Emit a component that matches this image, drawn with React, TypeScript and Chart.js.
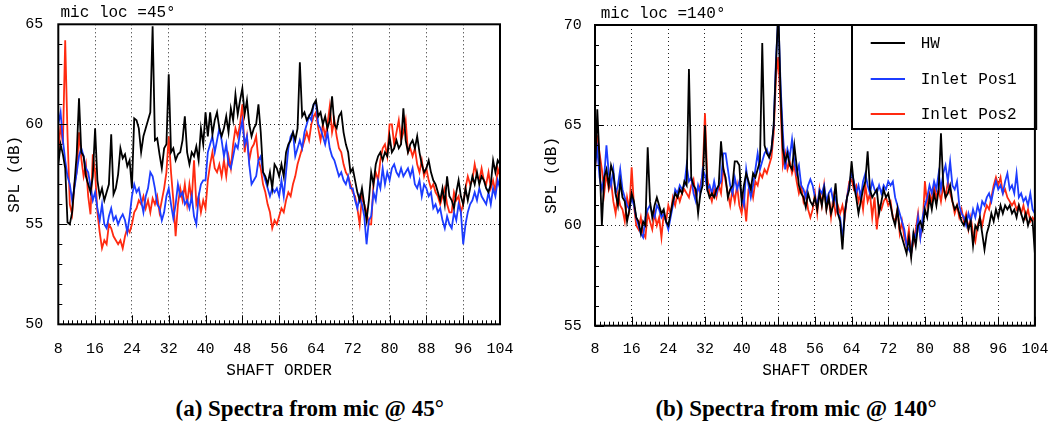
import React, { useEffect, useRef } from 'react';
import { Chart, registerables } from 'chart.js';

Chart.register(...registerables);

// ---------- data ----------
const ORDER_START = 8;
const ORDER_STEP = 0.5;
const X_MIN = 8;
const X_MAX = 104;
const X_MAJOR = 8;

const SERIES_NAMES = ['HW', 'Inlet Pos1', 'Inlet Pos2'];
const SERIES_COLORS = ['#000000', '#1c3cff', '#ff2a10'];

// mic @ 45 deg
const L_HW = [
  58.0, 59.0, 58.5, 57.8, 55.1, 55.0, 55.6, 57.0, 58.5, 61.3, 58.6, 58.4, 57.4, 57.0, 56.6, 57.4,
  59.8, 57.2, 56.4, 56.8, 56.2, 56.6, 57.0, 59.5, 56.5, 56.8, 57.5, 58.8, 58.3, 58.5, 57.9, 58.2,
  56.8, 60.3, 60.2, 59.8, 58.6, 59.4, 59.8, 60.2, 60.6, 64.9, 59.2, 59.3, 58.5, 57.8, 58.8, 59.0,
  62.5, 58.6, 58.8, 58.2, 58.5, 58.6, 59.2, 60.4, 58.6, 58.0, 58.6, 58.4, 58.9, 58.2, 59.8, 59.0,
  60.6, 59.4, 60.6, 59.5, 60.2, 60.6, 59.8, 59.4, 59.8, 60.4, 59.6, 60.8, 60.2, 61.5, 60.5, 61.2,
  61.8, 60.5, 61.2, 60.0, 59.4, 59.8, 60.0, 61.0, 59.6, 57.6, 57.4, 57.0, 57.6, 56.8, 58.0,
  57.8, 57.4, 58.0, 57.4, 58.6, 59.0, 59.2, 59.6, 59.2, 59.8, 63.1, 60.4, 60.6, 60.2, 60.4, 60.6,
  61.0, 61.2, 60.4, 60.6, 60.0, 60.4, 59.8, 60.2, 61.4, 60.0, 59.8, 60.4, 60.6, 59.6, 59.0, 58.6,
  57.6, 57.8, 57.2, 56.6, 56.2, 56.8, 56.0, 55.2, 56.2, 57.6, 57.0, 58.0, 58.4, 58.6, 58.2,
  58.6, 58.4, 59.4, 58.6, 58.8, 59.2, 58.8, 59.0, 60.8, 59.2, 58.6, 59.0, 59.2, 58.8, 59.4, 58.6,
  58.0, 57.6, 57.8, 58.2, 57.6, 57.2, 57.0, 56.6, 56.2, 56.8, 56.0, 57.4, 56.4, 56.2, 55.8, 56.6,
  57.2, 56.4, 56.0, 56.8, 56.2, 56.8, 57.4, 57.0, 57.6, 57.0, 57.4, 57.2, 56.8, 56.6, 57.0, 58.2,
  57.6, 58.2, 58.0,
];
const L_POS1 = [
  60.0, 60.6, 59.2, 58.2, 57.4, 57.0, 56.2, 56.8, 57.6, 58.4, 58.8, 58.4, 57.8, 57.6, 56.9, 56.2,
  56.6, 55.8, 55.2, 56.0, 55.0, 54.8, 55.4, 55.8, 55.2, 55.4, 55.0, 55.3, 55.5, 55.2, 54.6, 55.4,
  56.4, 57.0, 56.6, 56.8, 56.2, 55.6, 56.4, 56.8, 57.6, 57.4, 56.8, 56.0, 55.8, 55.2, 55.6, 56.4,
  56.8, 56.0, 55.3, 56.0, 57.0, 56.4, 56.6, 56.0, 56.2, 55.8, 56.4, 55.4, 55.0, 56.4, 57.0, 57.2,
  57.2, 58.6, 59.0, 59.4, 58.6, 59.2, 59.8, 59.2, 58.4, 59.0, 58.0, 57.8, 58.4, 59.0, 58.8, 59.6,
  60.2, 59.0, 59.4, 58.0, 57.0, 57.2, 57.4, 58.2, 58.4, 57.6, 57.2, 56.8, 56.4, 56.8, 56.6,
  56.8, 56.4, 57.2, 56.4, 57.6, 58.8, 59.4, 59.6, 58.4, 58.8, 59.2, 58.8, 59.6, 60.0, 60.4, 60.2,
  61.0, 61.1, 60.0, 59.8, 59.4, 59.0, 59.6, 58.8, 58.4, 58.2, 57.8, 57.4, 57.6, 57.2, 57.0, 57.4,
  56.8, 56.8, 56.2, 55.8, 56.4, 56.0, 55.4, 54.0, 55.2, 55.4, 56.6, 56.2, 57.2, 56.8, 57.8,
  57.0, 57.6, 57.2, 57.8, 58.0, 57.6, 57.4, 57.8, 57.4, 57.6, 57.8, 57.4, 57.8, 57.0, 56.8, 57.2,
  56.4, 57.0, 56.8, 56.4, 56.6, 55.8, 56.0, 55.6, 55.8, 55.2, 54.8, 55.4, 55.0, 54.8, 55.6, 55.2,
  56.0, 55.6, 54.0, 55.0, 55.6, 56.0, 56.2, 56.6, 56.2, 56.8, 56.4, 56.2, 56.0, 56.6, 56.0, 56.8,
  56.4, 57.2, 56.8,
];
const L_POS2 = [
  58.5, 60.0, 59.0, 64.2, 59.5, 56.0, 55.5, 57.0, 57.6, 59.6, 58.3, 57.4, 58.0, 56.4, 55.5, 58.5,
  57.6, 55.6, 54.6, 53.8, 54.2, 54.0, 55.0, 54.8, 54.4, 54.2, 54.0, 54.2, 53.8, 54.4, 54.8, 54.6,
  55.0, 55.6, 55.8, 56.2, 56.0, 56.4, 55.8, 56.2, 55.6, 56.3, 56.0, 56.4, 55.6, 56.2, 56.8, 57.6,
  59.4, 57.6, 56.2, 54.4, 56.0, 56.8, 56.2, 57.0, 56.0, 57.0, 56.2, 58.2, 56.0, 56.4, 55.6, 56.2,
  55.8, 57.2, 58.0, 58.6, 57.8, 57.6, 58.0, 57.4, 58.2, 57.4, 58.4, 57.8, 59.0, 59.8, 59.4, 60.0,
  61.0, 58.6, 59.4, 58.2, 58.8, 59.0, 59.4, 58.2, 57.8, 57.0, 56.6, 56.0, 55.6, 54.8, 55.2,
  55.0, 55.4, 55.8, 55.6, 56.2, 56.6, 56.4, 57.0, 57.4, 58.0, 58.4, 58.8, 59.2, 59.6, 59.2, 60.0,
  60.4, 60.6, 59.8, 59.2, 60.0, 59.4, 60.0, 60.9, 59.6, 60.2, 59.4, 58.8, 58.6, 58.0, 57.6, 57.4,
  57.0, 56.6, 56.4, 55.8, 55.0, 56.4, 56.0, 55.6, 55.0, 55.0, 57.0, 57.6, 57.2, 58.2, 58.8,
  59.0, 58.4, 60.0, 60.0, 59.0, 59.6, 60.2, 59.2, 59.6, 60.2, 58.6, 58.8, 58.4, 58.8, 58.0, 57.6,
  58.2, 57.4, 57.8, 57.2, 56.8, 57.0, 56.6, 56.4, 56.0, 56.4, 56.8, 56.0, 55.6, 55.6, 56.6, 56.2,
  56.4, 55.6, 56.0, 56.8, 57.4, 57.0, 57.2, 58.0, 57.4, 57.2, 57.8, 57.2, 57.0, 57.6, 56.8, 57.2,
  56.6, 57.8, 57.4,
];

// mic @ 140 deg
const R_HW = [
  62.5, 65.8, 63.2, 60.0, 62.4, 62.8, 62.0, 63.0, 62.6, 61.6, 61.0, 62.2, 61.4, 61.2, 60.2, 60.8,
  61.6, 61.2, 60.4, 60.2, 59.6, 60.2, 60.0, 63.9, 61.2, 60.4, 61.0, 61.4, 61.0, 60.6, 60.8, 60.2,
  60.0, 60.6, 61.2, 61.6, 61.4, 61.8, 61.6, 62.2, 62.0, 67.8, 62.4, 62.0, 61.8, 60.6, 61.6, 62.0,
  65.0, 61.8, 61.4, 61.6, 61.4, 61.8, 62.0, 64.2, 62.8, 62.4, 61.4, 61.8, 62.0, 63.2, 63.2, 63.0,
  61.2, 62.0, 62.6, 62.2, 61.8, 62.6, 62.4, 62.8, 63.2, 69.1, 64.0, 63.6, 63.4, 63.8, 65.0, 68.0,
  70.8, 66.6, 63.8, 63.2, 63.6, 63.0, 62.8, 64.0, 63.0, 62.0, 61.6, 61.4, 60.9, 61.6, 61.2,
  61.0, 61.4, 60.8, 61.6, 61.0, 61.8, 60.8, 61.4, 60.6, 61.0, 62.1, 60.6, 60.2, 58.8, 60.6, 61.4,
  61.8, 63.2, 62.0, 61.4, 60.6, 61.2, 61.8, 62.2, 63.7, 61.8, 61.4, 61.6, 61.8, 60.6, 61.2, 61.8,
  61.4, 61.6, 61.0, 60.4, 60.0, 60.8, 59.8, 59.4, 59.0, 58.6, 59.4, 58.4, 59.6, 59.0, 60.0,
  60.2, 59.8, 60.8, 60.4, 61.4, 60.8, 61.6, 61.0, 61.8, 64.6, 62.0, 61.4, 61.6, 62.0, 61.2, 60.8,
  61.0, 60.6, 60.2, 60.0, 60.4, 59.8, 60.2, 59.0, 60.0, 59.8, 60.4, 59.6, 58.8, 59.6, 60.0, 60.6,
  60.2, 60.8, 60.4, 61.0, 60.6, 61.0, 60.8, 61.0, 60.6, 60.8, 60.4, 61.0, 60.6, 60.2, 60.6, 60.0,
  60.4, 60.2, 58.6,
];
const R_POS1 = [
  63.0, 63.8, 62.4, 61.8, 62.4, 64.0, 62.6, 62.0, 62.8, 61.6, 62.0, 62.8, 61.8, 61.4, 61.0, 60.8,
  61.4, 61.0, 60.4, 60.0, 59.6, 59.4, 60.4, 60.8, 61.0, 60.6, 60.4, 61.0, 60.8, 60.4, 60.6, 60.2,
  59.8, 60.4, 61.0, 61.8, 61.6, 62.0, 61.8, 62.0, 63.0, 62.2, 62.4, 61.6, 61.2, 62.0, 61.6, 62.8,
  62.5, 61.8, 62.0, 61.6, 62.2, 61.6, 62.0, 62.2, 63.6, 63.6, 62.8, 62.0, 61.6, 62.4, 61.8, 62.2,
  61.4, 61.0, 62.8, 62.0, 61.4, 62.0, 62.8, 63.6, 62.8, 63.2, 63.6, 63.8, 63.4, 63.8, 65.0, 68.3,
  70.5, 67.0, 64.6, 62.8, 63.8, 63.4, 64.3, 63.2, 62.6, 63.0, 62.0, 61.8, 61.4, 62.0, 62.3,
  62.0, 61.4, 61.0, 61.8, 61.6, 62.0, 61.2, 61.6, 61.8, 61.2, 61.4, 60.6, 60.4, 59.3, 60.6, 61.4,
  62.0, 62.7, 62.2, 61.6, 62.0, 61.4, 62.2, 62.6, 62.0, 61.6, 62.2, 61.8, 61.6, 62.0, 61.6, 62.0,
  61.8, 62.2, 62.0, 62.2, 61.4, 61.0, 60.6, 60.2, 59.8, 59.0, 58.8, 58.6, 59.6, 59.4, 60.4,
  59.4, 60.4, 61.0, 61.4, 62.0, 61.6, 62.2, 61.8, 62.6, 61.8, 62.6, 63.0, 62.2, 63.2, 62.0, 61.8,
  62.2, 61.0, 60.6, 60.4, 60.0, 60.6, 60.2, 60.8, 60.4, 61.0, 60.6, 61.2, 61.0, 61.4, 61.6, 61.2,
  61.8, 62.2, 61.8, 62.0, 61.6, 62.2, 62.6, 61.8, 62.0, 61.6, 62.6, 61.4, 61.6, 61.2, 61.4, 61.0,
  61.6, 60.8, 60.6,
];
const R_POS2 = [
  62.8, 64.5, 63.6, 62.8, 61.6, 62.6, 61.8, 62.2, 61.2, 60.6, 61.6, 61.0, 60.8, 60.2, 61.4, 60.8,
  62.9, 61.0, 60.0, 59.8, 60.4, 59.6, 59.4, 60.6, 60.2, 59.8, 60.6, 60.0, 60.4, 59.4, 60.6, 60.2,
  61.0, 60.6, 61.4, 61.0, 61.6, 61.2, 61.6, 61.8, 61.6, 61.4, 62.0, 62.3, 61.4, 61.8, 62.0, 62.6,
  65.6, 62.4, 61.6, 61.2, 61.8, 61.4, 62.0, 61.6, 62.9, 62.2, 61.6, 61.0, 61.8, 61.2, 62.0, 61.0,
  60.6, 61.4, 60.2, 61.8, 62.0, 61.4, 62.2, 62.0, 62.6, 62.4, 62.8, 62.6, 63.0, 63.4, 64.6, 67.4,
  68.4, 66.0, 63.0, 63.6, 62.8, 63.2, 62.6, 63.0, 62.2, 61.6, 62.0, 61.2, 61.6, 60.8, 60.4,
  60.8, 61.6, 60.6, 61.8, 61.0, 62.0, 60.8, 61.4, 60.4, 61.4, 60.6, 61.0, 60.6, 61.0, 60.4, 61.4,
  62.2, 62.3, 61.8, 62.0, 61.2, 61.6, 60.8, 62.0, 61.2, 61.6, 60.4, 61.4, 59.8, 61.0, 60.8, 61.2,
  61.4, 61.0, 61.2, 60.4, 60.2, 60.8, 59.6, 60.2, 59.4, 59.0, 59.8, 58.6, 59.2, 59.8, 60.6,
  59.4, 60.0, 62.2, 61.0, 61.6, 61.2, 62.0, 61.4, 61.8, 61.2, 62.0, 61.4, 62.2, 61.6, 61.2, 60.6,
  61.0, 60.4, 60.8, 60.2, 60.6, 59.8, 60.4, 59.6, 59.2, 60.0, 60.4, 60.0, 60.6, 61.0, 60.8, 61.4,
  62.0, 62.4, 62.0, 62.4, 61.6, 61.8, 61.4, 61.2, 61.0, 61.2, 60.8, 61.0, 60.6, 61.0, 60.4, 60.8,
  60.2, 60.4, 60.2,
];

const MONO = "'Liberation Mono', 'Courier New', monospace";

type PanelSpec = {
  canvasLeft: number;
  canvasWidth: number;
  canvasHeight: number;
  plotLeft: number; // within canvas
  plotRight: number;
  plotTop: number;
  plotBottom: number;
  yMin: number;
  yMax: number;
  series: number[][];
  title: string;
  titleX: number;
  titleY: number;
  yTitlePad: number;
  yTickPad: number;
  xTickPad: number;
  legend: boolean;
};

const decoPlugin = {
  id: 'panelDeco',
  afterDatasetsDraw(chart: any, _args: any, opts: any) {
    const { ctx, chartArea: a, scales } = chart;
    const xs = scales.x;
    const ys = scales.y;
    ctx.save();
    ctx.setLineDash([]);
    ctx.strokeStyle = '#000';
    ctx.lineWidth = 1;
    for (let v = Math.ceil(xs.min); v <= xs.max; v++) {
      const px = Math.round(xs.getPixelForValue(v)) + 0.5;
      const len = v % X_MAJOR === 0 ? 9 : 4;
      ctx.beginPath();
      ctx.moveTo(px, a.bottom);
      ctx.lineTo(px, a.bottom - len);
      ctx.stroke();
    }
    for (let v = Math.ceil(ys.min); v <= ys.max; v++) {
      const py = Math.round(ys.getPixelForValue(v)) + 0.5;
      const len = v % 5 === 0 ? 9 : 4;
      ctx.beginPath();
      ctx.moveTo(a.left, py);
      ctx.lineTo(a.left + len, py);
      ctx.stroke();
    }
    // legend
    if (opts.legend) {
      const bl = a.left + 257;
      const br = a.right + 1.3;
      const bt = a.top;
      const bb = a.top + 104;
      ctx.fillStyle = '#fff';
      ctx.fillRect(bl, bt, br - bl, bb - bt);
      ctx.lineWidth = 2;
      ctx.strokeRect(bl, bt, br - bl, bb - bt);
      const rows = [18, 54, 89];
      ctx.font = `16px ${MONO}`;
      ctx.textBaseline = 'middle';
      ctx.textAlign = 'left';
      chart.data.datasets.forEach((ds: any, i: number) => {
        const yy = bt + rows[i];
        ctx.strokeStyle = ds.borderColor;
        ctx.lineWidth = 1.8;
        ctx.beginPath();
        ctx.moveTo(bl + 18.7, yy);
        ctx.lineTo(bl + 53, yy);
        ctx.stroke();
        ctx.fillStyle = '#000';
        ctx.fillText(ds.label, bl + 68.7, yy + 1);
      });
    }
    // frame
    ctx.strokeStyle = '#000';
    ctx.lineWidth = 2;
    ctx.strokeRect(a.left, a.top, a.width, a.height);
    // panel title
    ctx.fillStyle = '#000';
    ctx.font = `16px ${MONO}`;
    ctx.textBaseline = 'middle';
    ctx.textAlign = 'left';
    ctx.fillText(opts.title, opts.titleX, opts.titleY);
    ctx.restore();
  },
};

function Panel({ spec }: { spec: PanelSpec }) {
  const ref = useRef<HTMLCanvasElement | null>(null);
  useEffect(() => {
    if (!ref.current) return;
    const n = spec.series[0].length;
    const orders = Array.from({ length: n }, (_, i) => ORDER_START + i * ORDER_STEP);
    const datasets = spec.series.map((vals, k) => ({
      label: SERIES_NAMES[k],
      data: orders.map((o, i) => ({ x: o, y: vals[i] })),
      borderColor: SERIES_COLORS[k],
      backgroundColor: SERIES_COLORS[k],
      borderWidth: 1.8,
      pointRadius: 0,
      tension: 0,
      fill: false,
      clip: 0,
    }));
    const xHeight = spec.canvasHeight - spec.plotBottom;
    const chart = new Chart(ref.current, {
      type: 'line',
      data: { datasets },
      plugins: [decoPlugin],
      options: {
        responsive: false,
        animation: false,
        devicePixelRatio: 1,
        layout: {
          padding: {
            left: 0,
            top: spec.plotTop,
            right: spec.canvasWidth - spec.plotRight,
            bottom: 0,
          },
        },
        plugins: {
          legend: { display: false },
          tooltip: { enabled: false },
          panelDeco: {
            legend: spec.legend,
            title: spec.title,
            titleX: spec.titleX,
            titleY: spec.titleY,
          },
        } as any,
        scales: {
          x: {
            type: 'linear',
            min: X_MIN,
            max: X_MAX,
            afterFit: (s: any) => {
              s.height = xHeight;
            },
            ticks: {
              stepSize: X_MAJOR,
              color: '#000',
              padding: spec.xTickPad,
              maxRotation: 0,
              autoSkip: false,
              font: { family: MONO, size: 15 },
            },
            grid: { color: '#222', lineWidth: 1, drawTicks: false },
            border: { display: false, dash: [1, 3] },
            title: {
              display: true,
              text: 'SHAFT ORDER',
              color: '#000',
              font: { family: MONO, size: 16 },
              padding: { top: 0, bottom: 9.7 },
            },
          },
          y: {
            type: 'linear',
            min: spec.yMin,
            max: spec.yMax,
            afterFit: (s: any) => {
              s.width = spec.plotLeft;
            },
            ticks: {
              stepSize: 5,
              color: '#000',
              padding: spec.yTickPad,
              font: { family: MONO, size: 15 },
            },
            grid: { color: '#222', lineWidth: 1, drawTicks: false },
            border: { display: false, dash: [1, 3] },
            title: {
              display: true,
              text: 'SPL (dB)',
              color: '#000',
              font: { family: MONO, size: 16 },
              padding: { top: spec.yTitlePad, bottom: 0 },
            },
          },
        },
      } as any,
    });
    return () => chart.destroy();
  }, [spec]);
  return (
    <canvas
      ref={ref}
      width={spec.canvasWidth}
      height={spec.canvasHeight}
      style={{
        position: 'absolute',
        left: spec.canvasLeft,
        top: 0,
        width: spec.canvasWidth,
        height: spec.canvasHeight,
      }}
    />
  );
}

const LEFT: PanelSpec = {
  canvasLeft: 0,
  canvasWidth: 530,
  canvasHeight: 390,
  plotLeft: 58.3,
  plotRight: 500,
  plotTop: 24.3,
  plotBottom: 324.3,
  yMin: 50,
  yMax: 65,
  series: [L_HW, L_POS1, L_POS2],
  title: 'mic loc =45°',
  titleX: 60.5,
  titleY: 13,
  yTitlePad: 5.4,
  yTickPad: 15,
  xTickPad: 16,
  legend: false,
};

const RIGHT: PanelSpec = {
  canvasLeft: 530,
  canvasWidth: 533,
  canvasHeight: 390,
  plotLeft: 65,
  plotRight: 505.7,
  plotTop: 25,
  plotBottom: 325.7,
  yMin: 55,
  yMax: 70,
  series: [R_HW, R_POS1, R_POS2],
  title: 'mic loc =140°',
  titleX: 70.7,
  titleY: 14,
  yTitlePad: 12.1,
  yTickPad: 13.3,
  xTickPad: 14.6,
  legend: true,
};

const captionStyle = (cx: number): React.CSSProperties => ({
  position: 'absolute',
  left: cx,
  top: 409,
  transform: 'translate(-50%, -50%)',
  whiteSpace: 'nowrap',
  fontFamily: "'Liberation Serif', 'Times New Roman', serif",
  fontWeight: 'bold',
  fontSize: 23,
  lineHeight: '26px',
  color: '#000',
});

export default function App() {
  return (
    <div
      style={{
        position: 'fixed',
        left: 0,
        top: 0,
        width: 1063,
        height: 426,
        background: '#fff',
        overflow: 'hidden',
      }}
    >
      <Panel spec={LEFT} />
      <Panel spec={RIGHT} />
      <div style={captionStyle(309.7)}>(a) Spectra from mic @ 45°</div>
      <div style={captionStyle(796)}>(b) Spectra from mic @ 140°</div>
    </div>
  );
}
